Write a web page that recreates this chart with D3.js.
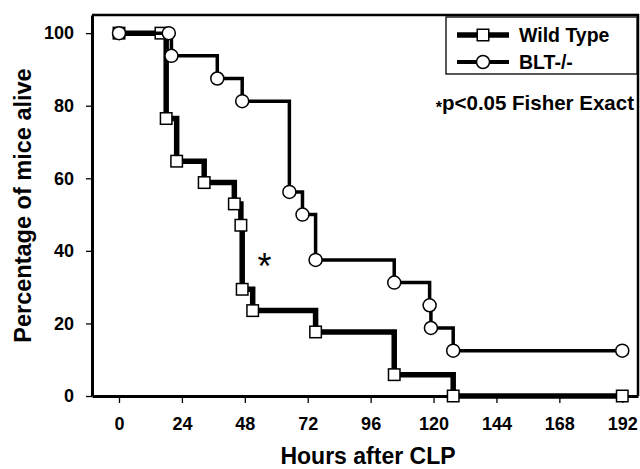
<!DOCTYPE html>
<html>
<head>
<meta charset="utf-8">
<script src="https://cdn.jsdelivr.net/npm/d3@7"></script>
<style>
  body { margin: 0; background: #fff; }
  svg { font-family: "Liberation Sans", Arial, Helvetica, sans-serif; }
</style>
</head>
<body>
<div id="container"></div>
<script>
/* DATA */
// survival steps: hours after CLP and percentage alive
const wtHours = [0, 16, 18, 22, 32.5, 44, 46.5, 47, 51, 75, 105, 127.5, 192];
const wtAlive = [100, 100, 76.47, 64.71, 58.82, 52.94, 47.06, 29.41, 23.53, 17.65, 5.88, 0, 0];
const bltHours = [0, 19, 20, 37.5, 47, 65, 70, 75, 105, 118.5, 119, 127.5, 192];
const bltAlive = [100, 100, 93.75, 87.5, 81.25, 56.25, 50, 37.5, 31.25, 25, 18.75, 12.5, 12.5];
const xTicks = [0, 24, 48, 72, 96, 120, 144, 168, 192];
const yTicks = [0, 20, 40, 60, 80, 100];
const seriesNames = ["Wild Type", "BLT-/-"];

/* CONSTANTS */
const width = 640,
  height = 469,
  margin = { top: 15, bottom: 73, left: 92, right: 2 };

const wt = wtHours.map((h, i) => ({ h, p: wtAlive[i] }));
const blt = bltHours.map((h, i) => ({ h, p: bltAlive[i] }));

/* SCALES */
const xScale = d3.scaleLinear()
  .domain([-10.3, 198])
  .range([margin.left, width - margin.right]);

const yScale = d3.scaleLinear()
  .domain([0, 105])
  .range([height - margin.bottom, margin.top]);

/* SVG */
const svg = d3.select("#container")
  .append("svg")
  .attr("width", width)
  .attr("height", height);

// top and right frame
svg.append("path")
  .attr("d", `M${xScale.range()[0]},${yScale.range()[1]}H${xScale.range()[1]}V${yScale.range()[0]}`)
  .attr("fill", "none")
  .attr("stroke", "#000")
  .attr("stroke-width", 2.5);

// axes
const xAxis = d3.axisBottom(xScale).tickValues(xTicks).tickSizeInner(7).tickSizeOuter(0).tickPadding(14);
const gx = svg.append("g")
  .attr("transform", `translate(0, ${yScale(0)})`)
  .call(xAxis);

const yAxis = d3.axisLeft(yScale).tickValues(yTicks).tickSizeInner(6).tickSizeOuter(0).tickPadding(12);
const gy = svg.append("g")
  .attr("transform", `translate(${xScale.range()[0]}, 0)`)
  .call(yAxis);

[gx, gy].forEach(g => {
  g.select(".domain").attr("stroke-width", 3);
  g.selectAll(".tick line").attr("stroke-width", 1.3);
  g.selectAll(".tick text")
    .attr("font-size", 18)
    .attr("font-weight", "bold")
    .attr("fill", "#000");
});
gx.selectAll(".tick line").attr("y1", 2);

// axis titles
svg.append("text")
  .attr("x", (xScale.range()[0] + xScale.range()[1]) / 2 + 3)
  .attr("y", 464)
  .attr("text-anchor", "middle")
  .attr("font-size", 23)
  .attr("font-weight", "bold")
  .text("Hours after CLP");

svg.append("text")
  .attr("transform", `translate(31, ${yScale(52.5)}) rotate(-90)`)
  .attr("text-anchor", "middle")
  .attr("font-size", 23.5)
  .attr("font-weight", "bold")
  .text("Percentage of mice alive");

/* LINES */
const line = d3.line()
  .x(d => xScale(d.h))
  .y(d => yScale(d.p))
  .curve(d3.curveStepAfter);

svg.append("path")
  .datum(wt)
  .attr("d", line)
  .attr("fill", "none")
  .attr("stroke", "#000")
  .attr("stroke-width", 5.5);

const sq = 11.5;
svg.selectAll(".sq")
  .data(wt)
  .join("rect")
  .attr("class", "sq")
  .attr("x", d => xScale(d.h) - sq / 2)
  .attr("y", d => yScale(d.p) - sq / 2)
  .attr("width", sq)
  .attr("height", sq)
  .attr("fill", "#fff")
  .attr("stroke", "#000")
  .attr("stroke-width", 1.5);

svg.append("path")
  .datum(blt)
  .attr("d", line)
  .attr("fill", "none")
  .attr("stroke", "#000")
  .attr("stroke-width", 3.5);

svg.selectAll(".circ")
  .data(blt)
  .join("circle")
  .attr("class", "circ")
  .attr("cx", d => xScale(d.h))
  .attr("cy", d => yScale(d.p))
  .attr("r", 6.5)
  .attr("fill", "#fff")
  .attr("stroke", "#000")
  .attr("stroke-width", 1.5);

// significance mark
svg.append("text")
  .attr("x", xScale(55.5))
  .attr("y", yScale(37.5) + 19)
  .attr("text-anchor", "middle")
  .attr("font-size", 36)
  .text("*");

const note = svg.append("text")
  .attr("x", 634)
  .attr("y", 110)
  .attr("text-anchor", "end")
  .attr("font-size", 20.5)
  .attr("font-weight", "bold");
note.append("tspan").attr("font-size", 16).attr("dy", 3).text("*");
note.append("tspan").attr("dy", -3).text("p<0.05 Fisher Exact");

/* LEGEND */
const legend = svg.append("g");
legend.append("rect")
  .attr("x", 446)
  .attr("y", 17)
  .attr("width", 191)
  .attr("height", 57)
  .attr("fill", "#fff")
  .attr("stroke", "#000")
  .attr("stroke-width", 1.3);

const rows = legend.selectAll(".row")
  .data(seriesNames)
  .join("g")
  .attr("class", "row")
  .attr("transform", (d, i) => `translate(0, ${35 + i * 27})`);

rows.append("line")
  .attr("x1", 457).attr("x2", 509)
  .attr("stroke", "#000")
  .attr("stroke-width", (d, i) => i === 0 ? 5.5 : 4);

rows.filter((d, i) => i === 0).append("rect")
  .attr("x", 483 - sq / 2).attr("y", -sq / 2)
  .attr("width", sq).attr("height", sq)
  .attr("fill", "#fff").attr("stroke", "#000").attr("stroke-width", 1.5);

rows.filter((d, i) => i === 1).append("circle")
  .attr("cx", 483).attr("r", 6.5)
  .attr("fill", "#fff").attr("stroke", "#000").attr("stroke-width", 1.5);

rows.append("text")
  .attr("x", 519)
  .attr("y", 7)
  .attr("font-size", 19.5)
  .attr("font-weight", "bold")
  .text(d => d);
</script>
</body>
</html>
